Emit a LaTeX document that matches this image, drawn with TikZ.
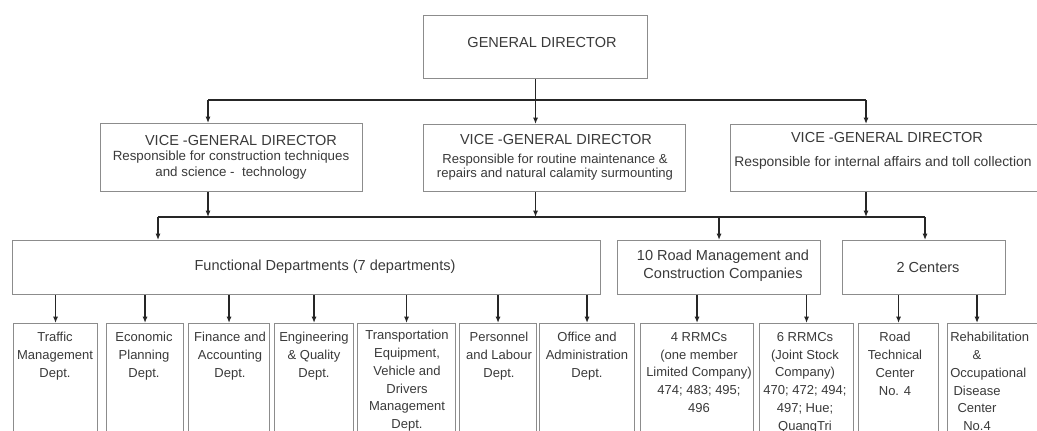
\documentclass[tikz,border=0pt]{standalone}
\usepackage{fontspec}
\setmainfont{Liberation Sans}
\usetikzlibrary{arrows.meta}
\definecolor{boxgray}{HTML}{8C8C8C}
\definecolor{inkgray}{HTML}{3A3A3A}
\definecolor{linegray}{HTML}{262626}
\hyphenpenalty=10000
\exhyphenpenalty=10000

\begin{document}
\begin{tikzpicture}[x=0.75pt,y=-0.75pt,
  box/.style={draw=boxgray, line width=0.8pt, inner sep=0pt, anchor=north west},
  wh/.style 2 args={minimum width=#1*0.75pt, minimum height=#2*0.75pt},
  ttl/.style={font=\fontsize{10.9}{13}\selectfont, text=inkgray, inner sep=0pt},
  desc/.style={font=\fontsize{10}{12}\selectfont, text=inkgray, inner sep=0pt, align=center},
  dept/.style={font=\fontsize{9.75}{13.35}\selectfont,
               text=inkgray, inner sep=0pt, align=center, anchor=north},
  link/.style={draw=linegray, line width=0.9pt},
  arr/.style={link, -{Latex[length=4.8pt,width=3.8pt]}}
]
\fill[white] (0,0) rectangle (1037,430);
\useasboundingbox (0,0) rectangle (1037,430);
\clip (0,0) rectangle (1037,430);

% ---- top level
\node[box, wh={224}{63}] (gd) at (423,15) {};
\node[ttl] (gdt) at (542,42) {GENERAL DIRECTOR};

% ---- vice directors
\node[box, wh={262}{68}] (vgd1) at (100,123) {};
\node[ttl] (vgd1t) at (241,140) {VICE -GENERAL DIRECTOR};
\node[desc] (vgd1d) at (231,165) {Responsible for construction techniques\\and science - \ technology};

\node[box, wh={262}{67}] (vgd2) at (423,124) {};
\node[ttl] (vgd2t) at (556,139) {VICE -GENERAL DIRECTOR};
\node[desc, font=\fontsize{9.8}{10.5}\selectfont] (vgd2d) at (555,167.5) {Responsible for routine maintenance \&\\repairs and natural calamity surmounting};

\node[box, wh={330}{67}] (vgd3) at (730,124) {};
\node[ttl] (vgd3t) at (887,137) {VICE -GENERAL DIRECTOR};
\node[desc, font=\fontsize{10.4}{12}\selectfont] (vgd3d) at (883,163) {Responsible for internal affairs and toll collection};

% ---- second level groups
\node[box, wh={588}{54}] (fd) at (12,240) {};
\node[ttl] (fdt) at (325,267) {Functional Departments (7 departments)};

\node[box, wh={203}{54}] (rmc) at (617,240) {};
\node[ttl, align=center, font=\fontsize{10.9}{13.5}\selectfont] (rmct) at (723,266) {10 Road Management and\\Construction Companies};

\node[box, wh={163}{54}] (cen) at (842,240) {};
\node[ttl] (cent) at (928,267) {2 Centers};

% ---- units
\node[box, wh={84}{130}]  (d1)  at (13,323)  {};
\node[box, wh={77}{130}]  (d2)  at (106,323) {};
\node[box, wh={81}{130}]  (d3)  at (188,323) {};
\node[box, wh={79}{130}]  (d4)  at (274,323) {};
\node[box, wh={98}{130}]  (d5)  at (357,323) {};
\node[box, wh={77}{130}]  (d6)  at (459,323) {};
\node[box, wh={95}{130}]  (d7)  at (539,323) {};
\node[box, wh={113}{130}] (d8)  at (640,323) {};
\node[box, wh={94}{130}]  (d9)  at (759,323) {};
\node[box, wh={80}{130}]  (d10) at (858,323) {};
\node[box, wh={120}{130}] (d11) at (947,323) {};

\node[dept] (d1t)  at (55,332)  {Traffic\\Management\\Dept.};
\node[dept] (d2t)  at (144,332) {Economic\\Planning\\Dept.};
\node[dept] (d3t)  at (230,332) {Finance and\\Accounting\\Dept.};
\node[dept] (d4t)  at (314,332) {Engineering\\\& Quality\\Dept.};
\node[dept] (d5t)  at (407,330) {Transportation\\Equipment,\\Vehicle and\\Drivers\\Management\\Dept.};
\node[dept] (d6t)  at (499,332) {Personnel\\and Labour\\Dept.};
\node[dept] (d7t)  at (587,332) {Office and\\Administration\\Dept.};
\node[dept] (d8t)  at (699,332) {4 RRMCs\\(one member\\Limited Company)\\474; 483; 495;\\496};
\node[dept] (d9t)  at (805,332) {6 RRMCs\\(Joint Stock\\Company)\\470; 472; 494;\\497; Hue;\\QuangTri};
\node[dept] (d10t) at (895,332) {Road\\Technical\\Center\\No. 4};
\node[dept, text width=40pt] (d11t) at (977,332) {Rehabilitation\\\&\\Occupational\\Disease\\Center\\No.4};

% ---- connectors: director to vice directors
\coordinate (tb1) at (208,100);
\coordinate (tb3) at (866,100);
\draw[link] (tb1) -- (tb3);
\draw[arr] (gd.south) -- (gd.south |- vgd2.north);
\draw[arr] (tb1) -- (tb1 |- vgd1.north);
\draw[arr] (tb3) -- (tb3 |- vgd3.north);

% ---- connectors: vice directors to groups
\coordinate (mbL) at (158,217);
\coordinate (mbR) at (925,217);
\draw[link] (mbL) -- (mbR);
\draw[arr] (tb1 |- vgd1.south) -- (tb1 |- mbL);
\draw[arr] (gd.south |- vgd2.south) -- (gd.south |- mbL);
\draw[arr] (tb3 |- vgd3.south) -- (tb3 |- mbL);
\draw[arr] (mbL) -- (mbL |- fd.north);
\draw[arr] (rmc.north |- mbL) -- (rmc.north);
\draw[arr] (mbR) -- (mbR |- cen.north);

% ---- connectors: groups to units
\foreach \d in {d1,d2,d3,d4,d5,d6,d7}
  \draw[arr] (\d.north |- fd.south) -- (\d.north);
\foreach \d in {d8,d9}
  \draw[arr] (\d.north |- rmc.south) -- (\d.north);
\draw[arr] (d10.north |- cen.south) -- (d10.north);
\draw[arr] (d11t.north |- cen.south) -- (d11t.north |- d11.north);
\end{tikzpicture}
\end{document}
